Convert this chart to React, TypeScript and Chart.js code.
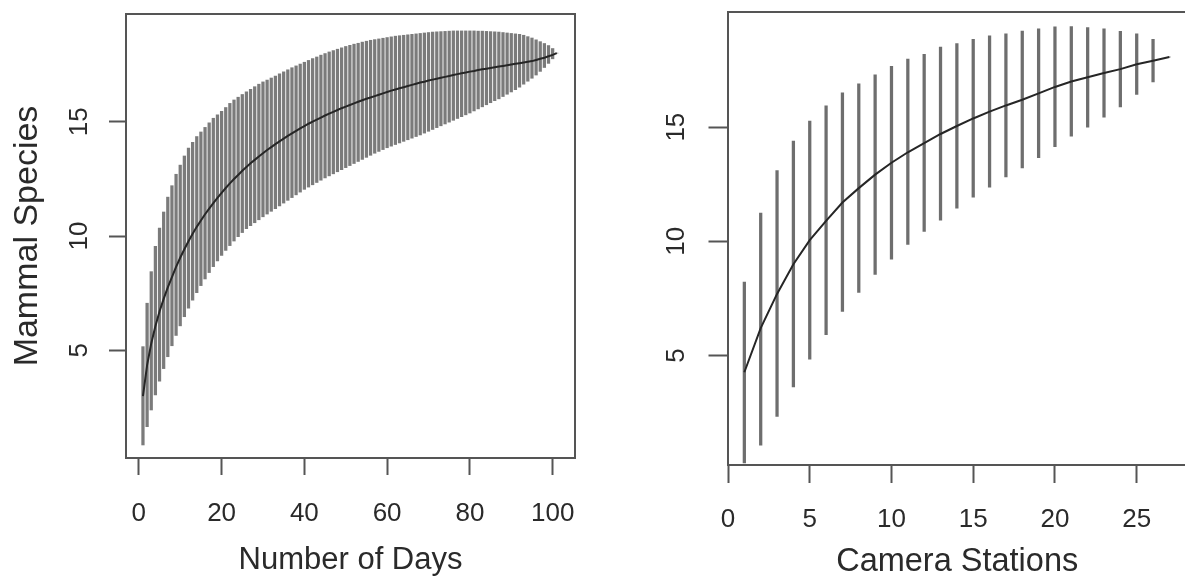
import React, { useEffect, useRef } from "react";
import Chart from "chart.js/auto";

// ---------- Left panel: Number of Days ----------
const dayCategories: number[] = Array.from({ length: 101 }, (_, i) => i + 1);

const dayMean: number[] = [
  3.0, 4.35, 5.3, 6.05, 6.7, 7.25, 7.75, 8.2, 8.65, 9.05,
  9.42, 9.77, 10.1, 10.4, 10.68, 10.95, 11.2, 11.44, 11.67, 11.89,
  12.1, 12.3, 12.49, 12.67, 12.85, 13.02, 13.18, 13.33, 13.48, 13.62,
  13.76, 13.89, 14.02, 14.14, 14.26, 14.38, 14.49, 14.6, 14.71, 14.81,
  14.91, 15.0, 15.09, 15.18, 15.27, 15.35, 15.43, 15.51, 15.59, 15.66,
  15.73, 15.8, 15.87, 15.94, 16.0, 16.06, 16.12, 16.18, 16.24, 16.3,
  16.36, 16.41, 16.46, 16.51, 16.56, 16.61, 16.66, 16.71, 16.75, 16.8,
  16.84, 16.88, 16.92, 16.96, 17.0, 17.04, 17.08, 17.12, 17.15, 17.19,
  17.22, 17.26, 17.29, 17.32, 17.35, 17.38, 17.41, 17.44, 17.47, 17.5,
  17.53, 17.56, 17.59, 17.62, 17.65, 17.7, 17.75, 17.8, 17.86, 17.92,
  18.0,
];

const dayLow: number[] = [
  0.86, 1.66, 2.39, 3.05, 3.65, 4.2, 4.72, 5.2, 5.65, 6.07,
  6.47, 6.84, 7.19, 7.52, 7.83, 8.12, 8.4, 8.66, 8.91, 9.15,
  9.37, 9.58, 9.78, 9.97, 10.15, 10.32, 10.45, 10.58, 10.71, 10.84,
  10.96, 11.08, 11.2, 11.32, 11.44, 11.56, 11.68, 11.8, 11.92, 12.04,
  12.14, 12.24, 12.34, 12.44, 12.54, 12.63, 12.72, 12.81, 12.9, 12.99,
  13.08, 13.17, 13.26, 13.35, 13.44, 13.53, 13.62, 13.7, 13.78, 13.86,
  13.93, 14.0, 14.07, 14.14, 14.21, 14.28, 14.35, 14.42, 14.5, 14.58,
  14.66, 14.74, 14.82, 14.9, 14.98, 15.06, 15.14, 15.22, 15.3, 15.38,
  15.47, 15.56, 15.65, 15.74, 15.83, 15.92, 16.0, 16.1, 16.2, 16.3,
  16.4, 16.51, 16.64, 16.77, 16.9, 17.04, 17.2, 17.37, 17.55, 17.75,
  18.0,
];

const dayHigh: number[] = [
  5.16, 7.06, 8.44, 9.55, 10.35, 11.05, 11.7, 12.2, 12.7, 13.1,
  13.5, 13.85, 14.1, 14.35, 14.55, 14.75, 14.95, 15.15, 15.3, 15.45,
  15.62, 15.8, 15.95, 16.07, 16.19, 16.31, 16.42, 16.53, 16.64, 16.74,
  16.82, 16.91, 17.0, 17.09, 17.18, 17.27, 17.36, 17.44, 17.52, 17.6,
  17.68, 17.76, 17.83, 17.91, 17.98, 18.05, 18.11, 18.17, 18.23, 18.29,
  18.34, 18.39, 18.43, 18.48, 18.52, 18.56, 18.59, 18.62, 18.65, 18.68,
  18.71, 18.74, 18.76, 18.78, 18.8, 18.82, 18.84, 18.86, 18.88, 18.9,
  18.92, 18.93, 18.94, 18.95, 18.96, 18.97, 18.97, 18.97, 18.97, 18.97,
  18.97, 18.96, 18.96, 18.95, 18.94, 18.93, 18.92, 18.9, 18.88, 18.86,
  18.84, 18.82, 18.78, 18.72, 18.66, 18.58, 18.5, 18.42, 18.33, 18.2,
  18.0,
];

const dayTicks: number[] = [0, 20, 40, 60, 80, 100];
const dayYTicks: number[] = [5, 10, 15];

// ---------- Right panel: Camera Stations ----------
const stationCategories: number[] = [
  1, 2, 3, 4, 5, 6, 7, 8, 9, 10, 11, 12, 13, 14, 15, 16, 17, 18, 19, 20,
  21, 22, 23, 24, 25, 26, 27,
];
const stationMean: number[] = [
  4.27, 6.2, 7.7, 9.0, 10.05, 10.9, 11.7, 12.33, 12.92, 13.44,
  13.9, 14.3, 14.7, 15.05, 15.38, 15.68, 15.95, 16.2, 16.48, 16.76,
  17.0, 17.18, 17.37, 17.54, 17.75, 17.91, 18.07,
];
const stationLow: number[] = [
  0.3, 1.08, 2.34, 3.63, 4.84, 5.92, 6.93, 7.77, 8.55, 9.22,
  9.87, 10.43, 10.93, 11.45, 11.93, 12.37, 12.82, 13.22, 13.66, 14.14,
  14.6, 15.0, 15.44, 15.89, 16.43, 16.98, 18.07,
];
const stationHigh: number[] = [
  8.22, 11.24, 13.1, 14.39, 15.27, 15.93, 16.5, 16.9, 17.29, 17.66,
  17.98, 18.19, 18.5, 18.66, 18.84, 19.0, 19.08, 19.2, 19.3, 19.39,
  19.4, 19.36, 19.3, 19.19, 19.08, 18.84, 18.07,
];
const stationTicks: number[] = [0, 5, 10, 15, 20, 25];
const stationYTicks: number[] = [5, 10, 15];

const FONT = "'Liberation Sans', Arial, Helvetica, sans-serif";
const AXIS_COLOR = "#555";
const TEXT_COLOR = "#2a2a2a";

const boxPlugin = {
  id: "rBox",
  afterDraw(chart: any) {
    const { ctx, chartArea } = chart;
    ctx.save();
    ctx.strokeStyle = AXIS_COLOR;
    ctx.lineWidth = 2;
    ctx.strokeRect(
      chartArea.left,
      chartArea.top,
      chartArea.right - chartArea.left,
      chartArea.bottom - chartArea.top
    );
    ctx.restore();
  },
};

interface PanelProps {
  xs: number[];
  mean: number[];
  low: number[];
  high: number[];
  xTicks: number[];
  yTicks: number[];
  xMin: number;
  xMax: number;
  yMin: number;
  yMax: number;
  xTitle: string;
  xTitleSize: number;
  yTitle?: string;
  padding: { top: number; right: number; left: number; bottom: number };
  yAxisWidth: number;
  xAxisHeight: number;
  xTickLen: number;
  yTickLen: number;
  xTickPad: number;
  yTickPad: number;
  xTitlePadBottom: number;
  barWidth: number;
  barColor: string;
}

function buildConfig(p: PanelProps): any {
  return {
    type: "bar",
    data: {
      datasets: [
        {
          type: "line",
          data: p.xs.map((x, i) => ({ x, y: p.mean[i] })),
          borderColor: "#262626",
          borderWidth: 2,
          pointRadius: 0,
          fill: false,
          tension: 0,
        },
        {
          type: "bar",
          data: p.xs.map((x, i) => ({ x, y: [p.low[i], p.high[i]] })),
          backgroundColor: p.barColor,
          borderWidth: 0,
          barThickness: p.barWidth,
          grouped: false,
        },
      ],
    },
    options: {
      responsive: false,
      animation: false,
      events: [],
      layout: { padding: p.padding },
      plugins: {
        legend: { display: false },
        tooltip: { enabled: false },
      },
      scales: {
        x: {
          type: "linear",
          min: p.xMin,
          max: p.xMax,
          offset: false,
          afterBuildTicks: (s: any) => {
            s.ticks = p.xTicks.map((v) => ({ value: v }));
          },
          afterFit: (s: any) => {
            s.height = p.xAxisHeight;
            s.paddingLeft = 0;
            s.paddingRight = 0;
          },
          grid: {
            offset: false,
            drawOnChartArea: false,
            drawTicks: true,
            tickLength: p.xTickLen,
            tickColor: AXIS_COLOR,
            tickWidth: 2,
            color: AXIS_COLOR,
          },
          border: { display: false },
          ticks: {
            font: { family: FONT, size: 26 },
            color: TEXT_COLOR,
            padding: p.xTickPad,
            maxRotation: 0,
            minRotation: 0,
            autoSkip: false,
          },
          title: {
            display: true,
            text: p.xTitle,
            font: { family: FONT, size: p.xTitleSize, lineHeight: 1 },
            color: TEXT_COLOR,
            padding: { top: 0, bottom: p.xTitlePadBottom },
          },
        },
        y: {
          type: "linear",
          min: p.yMin,
          max: p.yMax,
          afterBuildTicks: (s: any) => {
            s.ticks = p.yTicks.map((v) => ({ value: v }));
          },
          afterFit: (s: any) => {
            s.width = p.yAxisWidth;
            s.paddingTop = 0;
            s.paddingBottom = 0;
          },
          grid: {
            offset: false,
            drawOnChartArea: false,
            drawTicks: true,
            tickLength: p.yTickLen,
            tickColor: AXIS_COLOR,
            tickWidth: 2,
            color: AXIS_COLOR,
          },
          border: { display: false },
          ticks: {
            font: { family: FONT, size: 26 },
            color: TEXT_COLOR,
            padding: p.yTickPad,
            minRotation: 90,
            maxRotation: 90,
            crossAlign: "center",
            autoSkip: false,
          },
          title: {
            display: !!p.yTitle,
            text: p.yTitle || "",
            font: { family: FONT, size: 34, lineHeight: 1 },
            color: TEXT_COLOR,
            padding: { top: 11, bottom: 0 },
          },
        },
      },
    },
    plugins: [boxPlugin],
  };
}

function Panel(props: PanelProps & { left: number; width: number; height: number }) {
  const ref = useRef<HTMLCanvasElement | null>(null);
  useEffect(() => {
    if (!ref.current) return;
    const chart = new Chart(ref.current, buildConfig(props));
    return () => chart.destroy();
  }, []);
  return (
    <canvas
      ref={ref}
      width={props.width}
      height={props.height}
      style={{
        position: "absolute",
        left: props.left,
        top: 0,
        width: props.width,
        height: props.height,
      }}
    />
  );
}

export default function App() {
  return (
    <div
      style={{
        position: "absolute",
        left: 0,
        top: 0,
        width: 1185,
        height: 578,
        overflow: "hidden",
        background: "#fff",
      }}
    >
      <Panel
        left={0}
        width={600}
        height={578}
        xs={dayCategories}
        mean={dayMean}
        low={dayLow}
        high={dayHigh}
        xTicks={dayTicks}
        yTicks={dayYTicks}
        xMin={-3.1}
        xMax={105.4}
        yMin={0.29}
        yMax={19.71}
        xTitle="Number of Days"
        xTitleSize={31}
        yTitle="Mammal Species"
        padding={{ top: 14, right: 25, left: 0, bottom: 0 }}
        yAxisWidth={126}
        xAxisHeight={120}
        xTickLen={17}
        yTickLen={17}
        xTickPad={23}
        yTickPad={15}
        xTitlePadBottom={2.5}
        barWidth={2.6}
        barColor="rgba(90,90,90,0.8)"
      />
      <Panel
        left={600}
        width={600}
        height={578}
        xs={stationCategories}
        mean={stationMean}
        low={stationLow}
        high={stationHigh}
        xTicks={stationTicks}
        yTicks={stationYTicks}
        xMin={0}
        xMax={28.04}
        yMin={0.21}
        yMax={20.04}
        xTitle="Camera Stations"
        xTitleSize={32.5}
        padding={{ top: 12, right: 13.6, left: 0, bottom: 0 }}
        yAxisWidth={128}
        xAxisHeight={113}
        xTickLen={18}
        yTickLen={19.5}
        xTickPad={21.7}
        yTickPad={17}
        xTitlePadBottom={0}
        barWidth={2.6}
        barColor="rgba(85,85,85,0.85)"
      />
    </div>
  );
}
